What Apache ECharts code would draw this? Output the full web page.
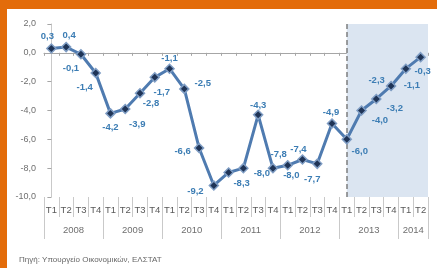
<!DOCTYPE html>
<html>
<head>
<meta charset="utf-8">
<script src="https://cdn.jsdelivr.net/npm/echarts@6/dist/echarts.min.js"></script>
<style>html,body{margin:0;padding:0;background:#fff}#c{width:437px;height:268px}</style>
</head>
<body>
<div id="c"></div>
<script>
// ---- data ----
var quarters = ['T1','T2','T3','T4','T1','T2','T3','T4','T1','T2','T3','T4','T1','T2','T3','T4','T1','T2','T3','T4','T1','T2','T3','T4','T1','T2'];
var years = ['2008','2009','2010','2011','2012','2013','2014'];
var yearCenters = [1.5, 5.5, 9.5, 13.5, 17.5, 21.5, 24.5];
var values = [0.3, 0.4, -0.1, -1.4, -4.2, -3.9, -2.8, -1.7, -1.1, -2.5, -6.6, -9.2, -8.3, -8.0, -4.3, -8.0, -7.8, -7.4, -7.7, -4.9, -6.0, -4.0, -3.2, -2.3, -1.1, -0.3];
var forecastStart = 20;
var yTicks = {min: -10, max: 2, interval: 2};
var sourceText = 'Πηγή: Υπουργείο Οικονομικών, ΕΛΣΤΑΤ';

// ---- label placement (style only) ----
var labelPlace = [
  ['top',[-4,3]],['top',[3,4]],['bottom',[-10,-1]],['bottom',[-11,-1]],
  ['bottom',[0,-1]],['bottom',[12,0]],['bottom',[11,-5]],['bottom',[7,0]],
  ['top',[0,5]],['right',[0,-6]],['left',[2,3]],['left',[0,6]],
  ['bottom',[13,-4]],['right',[0,5]],['top',[0,6]],['right',[0,7]],
  ['top',[-9,4]],['top',[-4,5]],['bottom',[-5,0]],['top',[-1,4]],
  ['bottom',[13,-3]],['right',[0,10]],['right',[0,9]],['left',[4,-6]],
  ['bottom',[6,1]],['bottom',[2,-1]]
];

var FONT = 'Liberation Sans';
var seriesData = values.map(function(v, i){
  return {
    value: [i, v],
    label: {position: labelPlace[i][0], offset: labelPlace[i][1]}
  };
});

var chart = echarts.init(document.getElementById('c'), null, {renderer: 'canvas'});
chart.setOption({
  animation: false,
  backgroundColor: '#fff',
  textStyle: {fontFamily: FONT},
  title: {
    text: sourceText, left: 14, top: 251,
    textStyle: {fontSize: 8, fontWeight: 'normal', color: '#666', fontFamily: FONT}
  },
  graphic: [
    {type: 'rect', left: 0, top: 0, shape: {width: 437, height: 9}, style: {fill: '#E36C0A'}, z: 100},
    {type: 'rect', left: 0, top: 0, shape: {width: 7, height: 268}, style: {fill: '#E36C0A'}, z: 100}
  ],
  grid: {left: 44, right: 9, top: 24, bottom: 71},
  xAxis: [
    { // zero line axis
      type: 'value', min: -0.5, max: 25.5, interval: 1,
      axisLine: {show: true, onZero: true, lineStyle: {color: '#a6a6a6', width: 1}},
      axisTick: {show: true, length: 3, lineStyle: {color: '#a6a6a6'}},
      axisLabel: {show: false}, splitLine: {show: false}
    },
    { // quarter labels
      type: 'category', data: quarters, position: 'bottom', boundaryGap: true,
      axisLine: {show: false, onZero: false},
      axisTick: {show: true, length: 20, interval: 0, lineStyle: {color: '#c9c9c9'}},
      axisLabel: {interval: 0, color: '#595959', fontSize: 9.5, margin: 8, fontFamily: FONT},
      splitLine: {show: false}
    },
    { // year labels
      type: 'value', min: -0.5, max: 25.5, interval: 1, position: 'bottom',
      axisLine: {show: false, onZero: false},
      axisTick: {show: false},
      axisLabel: {
        color: '#6f6f6f', fontSize: 9.5, margin: 28, fontFamily: FONT, showMinLabel: true, showMaxLabel: true,
        formatter: function(v){
          for (var k = 0; k < yearCenters.length; k++) {
            if (Math.abs(yearCenters[k] - v) < 0.01) return years[k];
          }
          return '';
        }
      },
      splitLine: {show: false}
    },
    { // year separators
      type: 'value', min: -0.5, max: 25.5, interval: 4, position: 'bottom',
      axisLine: {show: false, onZero: false},
      axisTick: {show: true, length: 42, lineStyle: {color: '#c9c9c9'}},
      axisLabel: {show: false}, splitLine: {show: false}
    }
  ],
  yAxis: {
    type: 'value', min: yTicks.min, max: yTicks.max, interval: yTicks.interval,
    axisLine: {show: true, lineStyle: {color: '#c9c9c9'}},
    axisTick: {show: true, length: 4, lineStyle: {color: '#a6a6a6'}},
    axisLabel: {
      color: '#6f6f6f', fontSize: 9, margin: 8, fontFamily: FONT,
      formatter: function(v){ return v.toFixed(1).replace('.', ','); }
    },
    splitLine: {show: false}
  },
  series: [{
    type: 'line', xAxisIndex: 0, yAxisIndex: 0,
    data: seriesData,
    symbol: 'diamond', symbolSize: 9,
    lineStyle: {color: '#4f7bb0', width: 3},
    itemStyle: {color: '#1f3456', borderColor: '#7f9dc4', borderWidth: 1.5},
    label: {
      show: true, distance: 5, color: '#3c7db4', fontSize: 9.5, fontWeight: 'bold', fontFamily: FONT,
      formatter: function(p){ return p.value[1].toFixed(1).replace('.', ','); }
    },
    markArea: {
      silent: true,
      itemStyle: {color: '#dbe5f1'},
      data: [[{xAxis: forecastStart, yAxis: yTicks.max}, {xAxis: 25.5, yAxis: yTicks.min}]]
    },
    markLine: {
      silent: true, symbol: 'none',
      label: {show: false},
      lineStyle: {color: '#7f7f7f', type: [5, 3], width: 1.5},
      data: [{xAxis: forecastStart}]
    },
    z: 5
  }]
});
</script>
</body>
</html>
